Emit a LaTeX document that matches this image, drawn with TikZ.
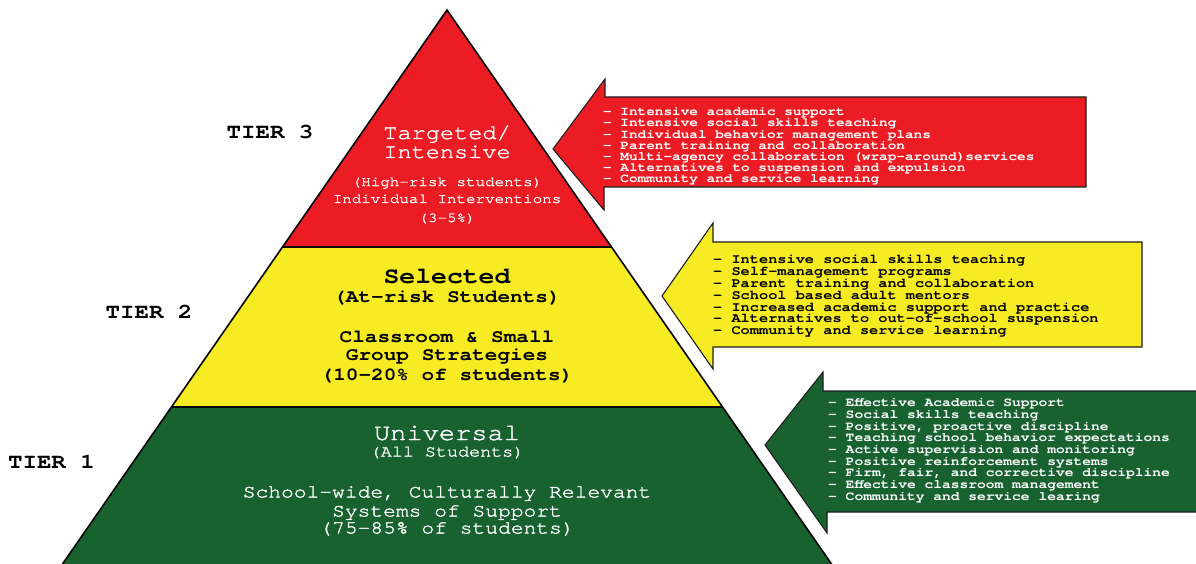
\documentclass[tikz,border=0pt]{standalone}
\usepackage{fontspec}
\newfontfamily\cur{texgyrecursor}[Extension=.otf, UprightFont=*-regular, BoldFont=*-bold, FakeStretch=1.15]
\newfontfamily\curm{texgyrecursor}[Extension=.otf, UprightFont=*-regular, FakeStretch=1.15, FakeBold=1.6]
\definecolor{tred}{HTML}{EC1C24}
\definecolor{tyel}{HTML}{F7EC23}
\definecolor{tgrn}{HTML}{17622F}
\definecolor{tdark}{HTML}{1E1E1E}
\newcommand\fsz[1]{\fontsize{#1}{#1}\selectfont}
\begin{document}
\begin{tikzpicture}[x=1pt,y=-1pt,
  every node/.style={inner sep=0pt},
  tierlbl/.style={font={\cur\bfseries\fsz{21}}, text=black, anchor=base},
  ptext/.style={font={\curm\fsz{#1}}, anchor=base},
  ptextb/.style={font={\cur\bfseries\fsz{#1}}, anchor=base},
  listr/.style={font={\cur\bfseries\fsz{12.5}}, text=white, anchor=base west},
  listy/.style={font={\cur\bfseries\fsz{13.3}}, text=black, anchor=base west},
  listg/.style={font={\cur\bfseries\fsz{12.7}}, text=white, anchor=base west},
  arrowshape/.style={draw=tdark, line width=1.1pt, line join=miter},
  pyredge/.style={draw=black, line width=1.6pt}
]
\useasboundingbox (0,0) rectangle (1196,564);
\fill[white] (0,0) rectangle (1196,564);

% pyramid layers
\fill[tred] (447,10) -- (282.5,247) -- (611.5,247) -- cycle;
\fill[tyel] (282.5,247) -- (611.5,247) -- (722.5,407) -- (171.5,407) -- cycle;
\fill[tgrn] (171.5,407) -- (722.5,407) -- (832.9,566) -- (61.1,566) -- cycle;
\draw[pyredge, line join=miter] (61.1,566) -- (447,10) -- (832.9,566);
\draw[pyredge] (282.5,247) -- (611.5,247);
\draw[pyredge] (171.5,407) -- (722.5,407);

% arrows
\draw[arrowshape, fill=tred] (553,149) -- (605,79) -- (605,97) -- (1086,97) -- (1086,187) -- (604,187) -- (604,210) -- cycle;
\draw[arrowshape, fill=tyel] (662,296) -- (713,223) -- (713,242) -- (1142,242) -- (1142,347) -- (713,347) -- (713,369) -- cycle;
\draw[arrowshape, fill=tgrn] (765,445) -- (823,372) -- (823,391) -- (1200,391) -- (1200,512) -- (827,512) -- (827,533) -- cycle;

% tier labels
\node[tierlbl] (t3) at (270,139) {TIER 3};
\node[tierlbl] (t2) at (149,318) {TIER 2};
\node[tierlbl] (t1) at (51.5,468) {TIER 1};

% red tier text
\node[ptext=20.5, text=white] (rt1) at (447,139) {Targeted/};
\node[ptext=20.5, text=white] (rt2) at (447,158) {Intensive};
\node[ptext=13.8, text=white] (rt3) at (447,186) {(High-risk students)};
\node[ptext=13.8, text=white] (rt4) at (447,203) {Individual Interventions};
\node[ptext=13.8, text=white] (rt5) at (447,222) {(3-5\%)};

% yellow tier text
\node[ptextb=23, text=black] (yt1) at (447,283.5) {Selected};
\node[ptextb=18.3, text=black] (yt2) at (447,302.5) {(At-risk Students)};
\node[ptextb=18.3, text=black] (yt3) at (447,342.5) {Classroom \& Small};
\node[ptextb=18.3, text=black] (yt4) at (447,360.5) {Group Strategies};
\node[ptextb=18.3, text=black] (yt5) at (447,380.5) {(10-20\% of students)};

% green tier text
\node[ptext=23.5, text=white] (gt1) at (447,440) {Universal};
\node[ptext=16, text=white] (gt2) at (447,456.5) {(All Students)};
\node[ptext=18.5, text=white] (gt3) at (447,497.5) {School-wide, Culturally Relevant};
\node[ptext=18.5, text=white] (gt4) at (447,516.5) {Systems of Support};
\node[ptext=18.5, text=white] (gt5) at (447,533.5) {(75-85\% of students)};

% lists
\foreach \t [count=\i] in {{Intensive academic support},{Intensive social skills teaching},{Individual behavior management plans},{Parent training and collaboration},{Multi-agency collaboration (wrap-around)services},{Alternatives to suspension and expulsion},{Community and service learning}}
  \node[listr] (r\i) at (603,{115.8+11.17*(\i-1)}) {- \t};
\foreach \t [count=\i] in {{Intensive social skills teaching},{Self-management programs},{Parent training and collaboration},{School based adult mentors},{Increased academic support and practice},{Alternatives to out-of-school suspension},{Community and service learning}}
  \node[listy] (y\i) at (713,{263.8+11.8*(\i-1)}) {- \t};
\foreach \t [count=\i] in {{Effective Academic Support},{Social skills teaching},{Positive, proactive discipline},{Teaching school behavior expectations},{Active supervision and monitoring},{Positive reinforcement systems},{Firm, fair, and corrective discipline},{Effective classroom management},{Community and service learing}}
  \node[listg] (g\i) at (828,{406.7+11.67*(\i-1)}) {- \t};
\end{tikzpicture}
\end{document}
